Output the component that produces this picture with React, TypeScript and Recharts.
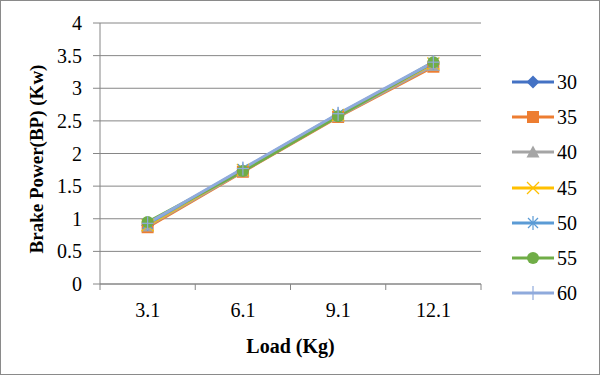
import { LineChart, Line, XAxis, YAxis, CartesianGrid, Legend } from 'recharts'

const loads = ['3.1', '6.1', '9.1', '12.1']
const bp30 = [0.9, 1.74, 2.58, 3.37]
const bp35 = [0.87, 1.72, 2.56, 3.33]
const bp40 = [0.89, 1.73, 2.57, 3.35]
const bp45 = [0.9, 1.75, 2.59, 3.38]
const bp50 = [0.92, 1.76, 2.6, 3.39]
const bp55 = [0.95, 1.73, 2.57, 3.4]
const bp60 = [0.93, 1.77, 2.61, 3.4]
const yTicks = [0, 0.5, 1, 1.5, 2, 2.5, 3, 3.5, 4]

const series = [
  { key: '30', values: bp30, color: '#4472C4', shape: 'diamond' },
  { key: '35', values: bp35, color: '#ED7D31', shape: 'square' },
  { key: '40', values: bp40, color: '#A5A5A5', shape: 'triangle' },
  { key: '45', values: bp45, color: '#FFC000', shape: 'x' },
  { key: '50', values: bp50, color: '#5B9BD5', shape: 'star' },
  { key: '55', values: bp55, color: '#70AD47', shape: 'circle' },
  { key: '60', values: bp60, color: '#8FAADC', shape: 'plus' },
]

const data = loads.map((load, i) => {
  const row: Record<string, string | number> = { load }
  series.forEach((s) => {
    row[s.key] = s.values[i]
  })
  return row
})

const FONT = 'Liberation Serif, Times New Roman, Times, serif'
const AXIS = '#868686'
const PLOT_LEFT = 100
const PLOT_RIGHT = 481
const PLOT_TOP = 23
const PLOT_BOTTOM = 284
const HALF_BAND = (PLOT_RIGHT - PLOT_LEFT) / loads.length / 2

function markerShape(shape: string, color: string, cx: number, cy: number, key?: string | number) {
  switch (shape) {
    case 'diamond':
      return <polygon key={key} points={`${cx},${cy - 6.5} ${cx + 6.5},${cy} ${cx},${cy + 6.5} ${cx - 6.5},${cy}`} fill={color} />
    case 'square':
      return <rect key={key} x={cx - 6} y={cy - 6} width={12} height={12} fill={color} />
    case 'triangle':
      return <polygon key={key} points={`${cx},${cy - 6.5} ${cx + 6.5},${cy + 5.5} ${cx - 6.5},${cy + 5.5}`} fill={color} />
    case 'x':
      return (
        <g key={key} stroke={color} strokeWidth={1.2}>
          <line x1={cx - 6} y1={cy - 6} x2={cx + 6} y2={cy + 6} />
          <line x1={cx - 6} y1={cy + 6} x2={cx + 6} y2={cy - 6} />
        </g>
      )
    case 'star':
      return (
        <g key={key} stroke={color} strokeWidth={1.2}>
          <line x1={cx - 5} y1={cy - 5} x2={cx + 5} y2={cy + 5} />
          <line x1={cx - 5} y1={cy + 5} x2={cx + 5} y2={cy - 5} />
          <line x1={cx} y1={cy - 7} x2={cx} y2={cy + 7} />
        </g>
      )
    case 'circle':
      return <circle key={key} cx={cx} cy={cy} r={6} fill={color} />
    default:
      return (
        <g key={key} stroke={color} strokeWidth={1.2}>
          <line x1={cx - 6} y1={cy} x2={cx + 6} y2={cy} />
          <line x1={cx} y1={cy - 7} x2={cx} y2={cy + 7} />
        </g>
      )
  }
}

const makeDot = (shape: string, color: string) => (props: any) => {
  const { cx, cy, index } = props
  if (cx == null || cy == null) return <g key={index} />
  return markerShape(shape, color, cx, cy, index)
}

const XTick = (props: any) => {
  const { x, payload, index } = props
  return (
    <g>
      <line x1={x - HALF_BAND} y1={PLOT_BOTTOM} x2={x - HALF_BAND} y2={PLOT_BOTTOM + 6} stroke={AXIS} />
      {index === loads.length - 1 && (
        <line x1={x + HALF_BAND} y1={PLOT_BOTTOM} x2={x + HALF_BAND} y2={PLOT_BOTTOM + 6} stroke={AXIS} />
      )}
      <text x={x} y={317} textAnchor="middle" style={{ fontFamily: FONT }} fontSize={20} fill="#000">
        {payload.value}
      </text>
    </g>
  )
}

const YLabel = () => (
  <text
    x={36}
    y={159}
    transform="rotate(-90, 36, 159)"
    textAnchor="middle"
    dominantBaseline="central"
    style={{ fontFamily: FONT }}
    fontSize={19}
    fontWeight="bold"
    fill="#000"
  >
    Brake Power(BP) (Kw)
  </text>
)

const XLabel = () => (
  <text
    x={(PLOT_LEFT + PLOT_RIGHT) / 2}
    y={353}
    textAnchor="middle"
    style={{ fontFamily: FONT }}
    fontSize={20}
    fontWeight="bold"
    fill="#000"
  >
    Load (Kg)
  </text>
)

const LegendBox = () => (
  <div>
    {series.map((s) => (
      <div key={s.key} style={{ display: 'flex', alignItems: 'center', height: 35.3 }}>
        <svg width={46} height={20}>
          <line x1={2} y1={10} x2={44} y2={10} stroke={s.color} strokeWidth={3} />
          {markerShape(s.shape, s.color, 23, 10)}
        </svg>
        <span style={{ fontFamily: FONT, fontSize: 20, color: '#000', marginLeft: 1, lineHeight: '20px' }}>
          {s.key}
        </span>
      </div>
    ))}
  </div>
)

export default function App() {
  return (
    <div
      style={{
        position: 'absolute',
        left: 0,
        top: 0,
        width: 600,
        height: 375,
        border: '1px solid #8a8a8a',
        boxSizing: 'border-box',
        background: '#fff',
        fontFamily: FONT,
      }}
    >
      <div style={{ position: 'absolute', left: -1, top: -1 }}>
        <LineChart
          width={600}
          height={375}
          data={data}
          margin={{ top: PLOT_TOP, right: 600 - PLOT_RIGHT, left: 0, bottom: 0 }}
          style={{ fontFamily: FONT }}
        >
          <CartesianGrid vertical={false} stroke={AXIS} strokeWidth={1} />
          <XAxis
            dataKey="load"
            scale="band"
            height={375 - PLOT_BOTTOM}
            stroke={AXIS}
            tickLine={false}
            tick={<XTick />}
            interval={0}
            label={<XLabel />}
          />
          <YAxis
            width={PLOT_LEFT}
            domain={[0, 4]}
            ticks={yTicks}
            interval={0}
            stroke={AXIS}
            tickSize={7}
            tickMargin={11}
            tick={{ fontFamily: FONT, fontSize: 20, fill: '#000', style: { fontFamily: FONT } }}
            label={<YLabel />}
          />
          <Legend
            layout="vertical"
            align="center"
            verticalAlign="middle"
            content={<LegendBox />}
            wrapperStyle={{ left: 510, top: 64, width: 90 }}
          />
          {series.map((s) => (
            <Line
              key={s.key}
              dataKey={s.key}
              name={s.key}
              stroke={s.color}
              strokeWidth={3}
              dot={makeDot(s.shape, s.color)}
              activeDot={false}
              isAnimationActive={false}
            />
          ))}
        </LineChart>
      </div>
    </div>
  )
}
